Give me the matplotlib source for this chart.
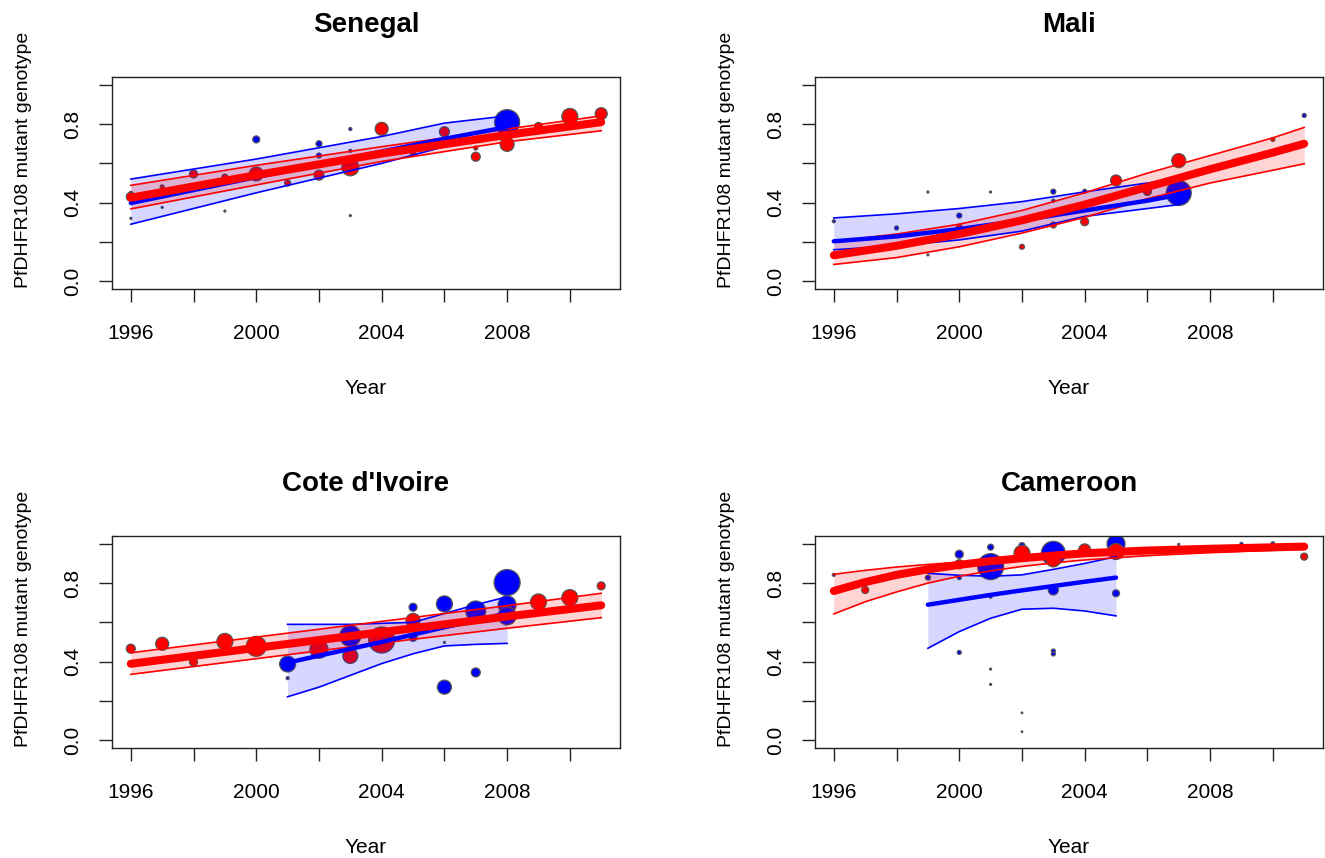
import matplotlib
matplotlib.use("Agg")
import matplotlib.pyplot as plt
import numpy as np

plt.rcParams['font.family'] = ['Liberation Sans', 'DejaVu Sans']

titles = ["Senegal", "Mali", "Cote d'Ivoire", "Cameroon"]
x_ticks = [1996, 1998, 2000, 2002, 2004, 2006, 2008, 2010]
x_ticklabels = ["1996", "", "2000", "", "2004", "", "2008", ""]
y_ticks = [0.0, 0.2, 0.4, 0.6, 0.8, 1.0]
y_ticklabels = ["0.0", "", "0.4", "", "0.8", ""]
x_label = "Year"
y_label = "PfDHFR108 mutant genotype"

# ---------------- Senegal ----------------
sen_blue_x = [2000, 2002, 2002, 2008, 1996, 1996, 2003, 2003, 2003, 1997, 1999]
sen_blue_y = [0.722, 0.70, 0.64, 0.81, 0.45, 0.32, 0.775, 0.664, 0.334, 0.376, 0.357]
sen_blue_r = [3.5, 3.0, 2.5, 12.5, 1.5, 1.0, 1.5, 1.5, 1.0, 1.0, 1.0]
sen_red_x = [1996, 1997, 1998, 1999, 2000, 2001, 2002, 2003, 2004, 2005, 2006, 2007, 2007, 2008, 2009, 2010, 2011]
sen_red_y = [0.43, 0.48, 0.546, 0.53, 0.546, 0.50, 0.54, 0.58, 0.776, 0.653, 0.761, 0.634, 0.678, 0.697, 0.788, 0.839, 0.853]
sen_red_r = [4.5, 2.0, 4.0, 3.0, 7.0, 3.0, 5.0, 8.5, 6.5, 2.5, 5.0, 4.5, 2.0, 7.0, 4.0, 8.0, 6.0]
sen_blue_cx = [1996, 2000, 2004, 2006, 2008]
sen_blue_fit = [0.398, 0.53, 0.66, 0.725, 0.785]
sen_blue_lo = [0.29, 0.45, 0.60, 0.685, 0.746]
sen_blue_hi = [0.52, 0.622, 0.737, 0.805, 0.842]
sen_red_cx = [1996, 2000, 2004, 2008, 2011]
sen_red_fit = [0.425, 0.54, 0.65, 0.745, 0.81]
sen_red_lo = [0.368, 0.49, 0.61, 0.71, 0.766]
sen_red_hi = [0.488, 0.59, 0.685, 0.775, 0.842]

# ---------------- Mali ----------------
mal_blue_x = [1996, 1998, 1999, 1999, 2000, 2001, 2003, 2003, 2004, 2007, 2011]
mal_blue_y = [0.305, 0.271, 0.454, 0.134, 0.334, 0.454, 0.456, 0.41, 0.458, 0.449, 0.844]
mal_blue_r = [1.5, 2.0, 1.0, 1.0, 2.5, 1.0, 2.5, 1.5, 2.0, 12.5, 2.0]
mal_red_x = [2000, 2002, 2003, 2004, 2005, 2006, 2007, 2010]
mal_red_y = [0.275, 0.175, 0.286, 0.303, 0.513, 0.457, 0.614, 0.722]
mal_red_r = [3.0, 2.5, 3.0, 4.0, 5.5, 4.0, 7.0, 2.0]
mal_blue_cx = [1996, 1998, 2000, 2002, 2004, 2006, 2007]
mal_blue_fit = [0.203, 0.228, 0.265, 0.31, 0.36, 0.41, 0.44]
mal_blue_lo = [0.16, 0.18, 0.21, 0.255, 0.33, 0.37, 0.39]
mal_blue_hi = [0.322, 0.343, 0.37, 0.405, 0.455, 0.50, 0.52]
mal_red_cx = [1996, 1998, 2000, 2002, 2004, 2006, 2008, 2010, 2011]
mal_red_fit = [0.132, 0.18, 0.24, 0.31, 0.39, 0.48, 0.57, 0.655, 0.70]
mal_red_lo = [0.085, 0.12, 0.175, 0.245, 0.325, 0.42, 0.50, 0.565, 0.598]
mal_red_hi = [0.203, 0.24, 0.29, 0.36, 0.45, 0.55, 0.64, 0.73, 0.783]

# ---------------- Cote d'Ivoire ----------------
civ_blue_x = [2001, 2001, 2003, 2005, 2005, 2006, 2006, 2006, 2007, 2007, 2008, 2008, 2008]
civ_blue_y = [0.388, 0.316, 0.531, 0.677, 0.524, 0.694, 0.498, 0.27, 0.658, 0.345, 0.803, 0.689, 0.633]
civ_blue_r = [8.0, 1.5, 10.5, 4.0, 4.0, 8.0, 1.0, 7.0, 10.0, 4.5, 13.0, 9.0, 9.0]
civ_red_x = [1996, 1997, 1998, 1999, 2000, 2002, 2003, 2004, 2005, 2009, 2010, 2011]
civ_red_y = [0.466, 0.491, 0.398, 0.503, 0.478, 0.463, 0.429, 0.51, 0.61, 0.704, 0.726, 0.786]
civ_red_r = [4.5, 6.5, 4.0, 8.0, 10.0, 9.0, 7.5, 13.0, 7.0, 8.0, 8.0, 4.0]
civ_blue_cx = [2001, 2002, 2003, 2004, 2005, 2006, 2007, 2008]
civ_blue_fit = [0.395, 0.43, 0.465, 0.50, 0.538, 0.575, 0.61, 0.646]
civ_blue_lo = [0.221, 0.27, 0.33, 0.39, 0.44, 0.48, 0.488, 0.493]
civ_blue_hi = [0.59, 0.59, 0.59, 0.595, 0.60, 0.645, 0.69, 0.73]
civ_red_cx = [1996, 2000, 2004, 2008, 2011]
civ_red_fit = [0.389, 0.47, 0.55, 0.63, 0.687]
civ_red_lo = [0.335, 0.415, 0.495, 0.57, 0.624]
civ_red_hi = [0.445, 0.525, 0.605, 0.685, 0.748]

# ---------------- Cameroon ----------------
cam_blue_x = [1996, 1999, 2000, 2000, 2000, 2001, 2001, 2001, 2001, 2001, 2002, 2002, 2002,
              2003, 2003, 2003, 2003, 2005, 2005, 2007, 2009, 2010]
cam_blue_y = [0.842, 0.828, 0.947, 0.828, 0.447, 0.983, 0.884, 0.731, 0.362, 0.284, 0.991, 0.139, 0.043,
              0.952, 0.765, 0.454, 0.439, 1.0, 0.748, 0.997, 1.0, 1.0]
cam_blue_r = [1.5, 2.5, 4.0, 2.0, 2.0, 3.0, 13.0, 1.5, 1.0, 1.0, 3.0, 0.8, 0.8,
              12.0, 5.0, 2.0, 2.0, 9.0, 3.5, 1.0, 1.5, 2.0]
cam_red_x = [1997, 2000, 2002, 2003, 2004, 2005, 2011]
cam_red_y = [0.765, 0.896, 0.952, 0.918, 0.969, 0.961, 0.935]
cam_red_r = [3.5, 4.5, 8.0, 7.0, 6.0, 8.0, 3.5]
cam_blue_cx = [1999, 2000, 2001, 2002, 2003, 2004, 2005]
cam_blue_fit = [0.69, 0.715, 0.74, 0.763, 0.785, 0.807, 0.828]
cam_blue_lo = [0.468, 0.553, 0.621, 0.667, 0.672, 0.658, 0.633]
cam_blue_hi = [0.85, 0.84, 0.835, 0.842, 0.87, 0.90, 0.935]
cam_red_cx = [1996, 1997, 1998, 1999, 2000, 2001, 2002, 2003, 2004, 2006, 2008, 2011]
cam_red_fit = [0.76, 0.805, 0.842, 0.87, 0.893, 0.912, 0.927, 0.94, 0.952, 0.966, 0.975, 0.986]
cam_red_lo = [0.643, 0.705, 0.755, 0.80, 0.835, 0.862, 0.885, 0.903, 0.918, 0.94, 0.955, 0.973]
cam_red_hi = [0.845, 0.865, 0.882, 0.895, 0.907, 0.92, 0.935, 0.945, 0.955, 0.967, 0.976, 0.99]

panels = [
    (sen_blue_x, sen_blue_y, sen_blue_r, sen_red_x, sen_red_y, sen_red_r,
     sen_blue_cx, sen_blue_fit, sen_blue_lo, sen_blue_hi, sen_red_cx, sen_red_fit, sen_red_lo, sen_red_hi),
    (mal_blue_x, mal_blue_y, mal_blue_r, mal_red_x, mal_red_y, mal_red_r,
     mal_blue_cx, mal_blue_fit, mal_blue_lo, mal_blue_hi, mal_red_cx, mal_red_fit, mal_red_lo, mal_red_hi),
    (civ_blue_x, civ_blue_y, civ_blue_r, civ_red_x, civ_red_y, civ_red_r,
     civ_blue_cx, civ_blue_fit, civ_blue_lo, civ_blue_hi, civ_red_cx, civ_red_fit, civ_red_lo, civ_red_hi),
    (cam_blue_x, cam_blue_y, cam_blue_r, cam_red_x, cam_red_y, cam_red_r,
     cam_blue_cx, cam_blue_fit, cam_blue_lo, cam_blue_hi, cam_red_cx, cam_red_fit, cam_red_lo, cam_red_hi),
]

W, H = 1325, 858
fig = plt.figure(figsize=(W / 100, H / 100), dpi=100)
fig.patch.set_facecolor('white')

# axes boxes in pixel coordinates (left, top, right, bottom)
boxes = [(112, 77, 620, 289), (815, 77, 1323, 289),
         (112, 536, 620, 748), (815, 536, 1323, 748)]

BLUE = '#0000FF'
RED = '#FF0000'
EDGE = '#555555'


def px_to_s(r):
    d = 2 * np.asarray(r) * 0.72
    return d ** 2


for i, (box, data) in enumerate(zip(boxes, panels)):
    l, t, r_, b = box
    ax = fig.add_axes([l / W, 1 - b / H, (r_ - l) / W, (b - t) / H])
    (bx, by, br, rx, ry, rr, bcx, bfit, blo, bhi, rcx, rfit, rlo, rhi) = data

    ax.scatter(bx, by, s=px_to_s(br), c=BLUE, edgecolors=EDGE, linewidths=0.9, zorder=2)
    ax.scatter(rx, ry, s=px_to_s(rr), c=RED, edgecolors=EDGE, linewidths=0.9, zorder=2)

    ax.fill_between(bcx, blo, bhi, color=BLUE, alpha=0.16, linewidth=0, zorder=3)
    ax.fill_between(rcx, rlo, rhi, color=RED, alpha=0.17, linewidth=0, zorder=3)
    ax.plot(bcx, blo, color=BLUE, lw=1.2, zorder=4)
    ax.plot(bcx, bhi, color=BLUE, lw=1.2, zorder=4)
    ax.plot(rcx, rlo, color=RED, lw=1.2, zorder=4)
    ax.plot(rcx, rhi, color=RED, lw=1.2, zorder=4)
    ax.plot(bcx, bfit, color=BLUE, lw=3.2, solid_capstyle='round', zorder=5)
    ax.plot(rcx, rfit, color=RED, lw=5.8, solid_capstyle='round', zorder=6)

    ax.set_xlim(1995.4, 2011.6)
    ax.set_ylim(-0.04, 1.04)
    ax.set_xticks(x_ticks)
    ax.set_xticklabels(x_ticklabels)
    ax.set_yticks(y_ticks)
    ax.set_yticklabels(y_ticklabels, rotation=90, va='center')
    ax.tick_params(axis='both', direction='out', length=9.5, width=1.0,
                   labelsize=15, color='#222222')
    ax.tick_params(axis='x', pad=16)
    ax.tick_params(axis='y', pad=12)
    for sp in ax.spines.values():
        sp.set_linewidth(1.0)
        sp.set_color('#222222')

    ax.set_xlabel(x_label, fontsize=15)
    ax.xaxis.set_label_coords(0.5, -0.47)
    ax.xaxis.label.set_va('center')
    ax.set_ylabel(y_label, fontsize=14)
    ax.yaxis.set_label_coords(-0.175, 0.61)
    ax.yaxis.label.set_va('center')

    ax.text(0.5, 1 + 45 / 212, titles[i], transform=ax.transAxes,
            ha='center', va='baseline', fontsize=20, fontweight='bold')

fig.savefig('out.png', dpi=100, facecolor='white')
